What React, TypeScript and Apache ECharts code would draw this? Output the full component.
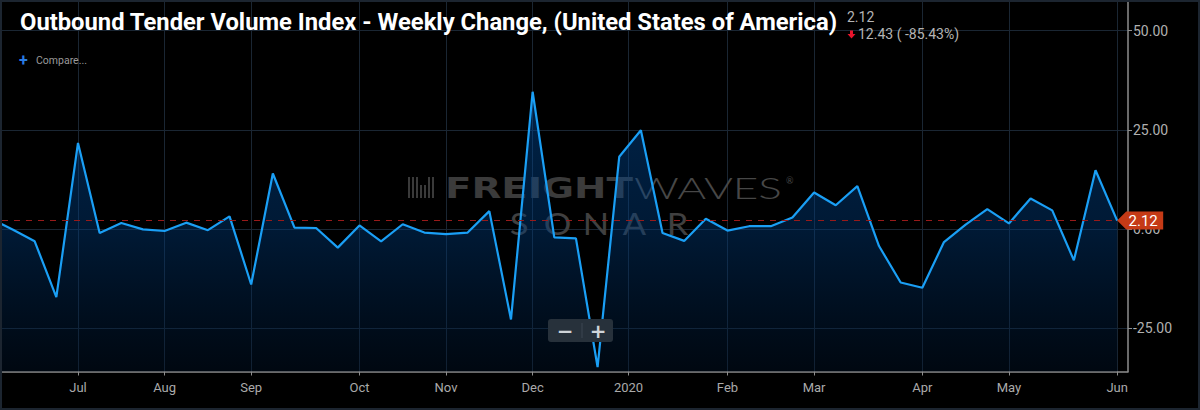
import React, { useEffect, useRef } from 'react';
import * as echarts from 'echarts';

// ---- Data (weekly) ----
const weekDates = [
  '2019-06-09', '2019-06-16', '2019-06-23', '2019-06-30', '2019-07-07', '2019-07-14', '2019-07-21', '2019-07-28',
  '2019-08-04', '2019-08-11', '2019-08-18', '2019-08-25', '2019-09-01', '2019-09-08', '2019-09-15', '2019-09-22',
  '2019-09-29', '2019-10-06', '2019-10-13', '2019-10-20', '2019-10-27', '2019-11-03', '2019-11-10', '2019-11-17',
  '2019-11-24', '2019-12-01', '2019-12-08', '2019-12-15', '2019-12-22', '2019-12-29', '2020-01-05', '2020-01-12',
  '2020-01-19', '2020-01-26', '2020-02-02', '2020-02-09', '2020-02-16', '2020-02-23', '2020-03-01', '2020-03-08',
  '2020-03-15', '2020-03-22', '2020-03-29', '2020-04-05', '2020-04-12', '2020-04-19', '2020-04-26', '2020-05-03',
  '2020-05-10', '2020-05-17', '2020-05-24', '2020-05-31', '2020-06-07',
];

const weeklyChange = [
  2.5, -0.2, -3.1, -17.2, 21.7, -1.0, 1.5, -0.1,
  -0.5, 1.6, -0.3, 3.2, -14.0, 14.0, 0.35, 0.25,
  -4.7, 0.9, -3.1, 1.2, -0.9, -1.3, -0.9, 4.5,
  -22.8, 34.6, -2.1, -2.35, -34.8, 18.2, 24.9, -1.0,
  -3.0, 2.6, -0.4, 0.7, 0.7, 2.9, 9.2, 6.0,
  10.8, -4.3, -13.5, -14.8, -3.3, 1.1, 5.0, 1.4,
  7.7, 4.7, -7.9, 14.8, 2.12,
];

const lastValue = 2.12;
const changeValue = 12.43;
const changePct = -85.43;

const yTickValues = [-25, 0, 25, 50];
const monthLabels = ['Jul', 'Aug', 'Sep', 'Oct', 'Nov', 'Dec', '2020', 'Feb', 'Mar', 'Apr', 'May', 'Jun'];

const titleText = 'Outbound Tender Volume Index - Weekly Change, (United States of America)';

// month tick positions on the weekly index scale
function buildMonthTicks() {
  const ts = weekDates.map((d) => Date.parse(d));
  const out: { pos: number; label: string }[] = [];
  monthLabels.forEach((label, k) => {
    const y = 2019 + Math.floor((6 + k) / 12);
    const m = (6 + k) % 12;
    const start = Date.UTC(y, m, 1);
    const i = ts.findIndex((t) => t >= start);
    if (m === 0 && i > 0) {
      out.push({ pos: i - 1 + (start - ts[i - 1]) / (ts[i] - ts[i - 1]), label });
    } else {
      out.push({ pos: i, label });
    }
  });
  return out;
}

function fitScale(text: string, font: string, target: number) {
  const c = document.createElement('canvas').getContext('2d');
  if (!c) return 1;
  c.font = font;
  const w = c.measureText(text).width;
  return w > 0 ? target / w : 1;
}

export default function App() {
  const ref = useRef<HTMLDivElement>(null);

  useEffect(() => {
    if (!ref.current) return;
    const chart = echarts.init(ref.current, undefined, { renderer: 'svg' });

    const monthTicks = buildMonthTicks();
    const tickPos = monthTicks.map((t) => t.pos);
    const labelFor = (v: number) => {
      let best = monthTicks[0];
      monthTicks.forEach((t) => {
        if (Math.abs(t.pos - v) < Math.abs(best.pos - v)) best = t;
      });
      return best.label;
    };

    const seriesData = weeklyChange.map((v, i) => [i, v]);
    const lastIdx = weeklyChange.length - 1;

    const titleFont = 'bold 24px Roboto';
    const titleScale = fitScale(titleText, titleFont, 818);
    const freightScale = fitScale('FREIGHT', '900 29px "DejaVu Sans"', 188);
    const wavesScale = fitScale('WAVES', '300 29px Lato', 148);

    const sonarLetters = ['S', 'O', 'N', 'A', 'R'];
    const sonarX = [519, 557.5, 596, 634.5, 677.5];
    const iconBars = [
      { x: 408, h: 21 }, { x: 412, h: 21 }, { x: 416, h: 21 }, { x: 420, h: 13 },
      { x: 424, h: 13 }, { x: 428, h: 21 }, { x: 432, h: 21 },
    ];

    const graphic: any[] = [
      // watermark
      ...iconBars.map((b) => ({
        type: 'rect', z: 1, silent: true,
        shape: { x: b.x, y: 198 - b.h, width: 2, height: b.h },
        style: { fill: '#3a3a3a' },
      })),
      {
        type: 'text', z: 1, silent: true, x: 445, y: 188, scaleX: freightScale,
        style: { text: 'FREIGHT', fill: '#3b3b3b', fontSize: 29, fontWeight: 900, fontFamily: 'DejaVu Sans', verticalAlign: 'middle', align: 'left' },
      },
      {
        type: 'text', z: 1, silent: true, x: 634, y: 188, scaleX: wavesScale,
        style: { text: 'WAVES', fill: '#474747', fontSize: 29, fontWeight: 300, fontFamily: 'Lato', verticalAlign: 'middle', align: 'left' },
      },
      {
        type: 'text', z: 1, silent: true, x: 786, y: 180,
        style: { text: '®', fill: '#474747', fontSize: 9, fontFamily: 'Lato', verticalAlign: 'middle', align: 'left' },
      },
      ...sonarLetters.map((ch, i) => ({
        type: 'text', z: 1, silent: true, x: sonarX[i], y: 223, scaleX: 1.15,
        style: { text: ch, fill: '#404040', fontSize: 30, fontWeight: 'normal', fontFamily: 'Lato', verticalAlign: 'middle', align: 'center' },
      })),
      // title block
      {
        type: 'text', z: 10, silent: true, x: 20, y: 22, scaleX: titleScale,
        style: { text: titleText, fill: '#ffffff', fontSize: 24, fontWeight: 'bold', fontFamily: 'Roboto', verticalAlign: 'middle', align: 'left' },
      },
      {
        type: 'text', z: 10, silent: true, x: 847, y: 17,
        style: { text: lastValue.toFixed(2), fill: '#b4b4b4', fontSize: 14, fontFamily: 'Roboto', verticalAlign: 'middle', align: 'left' },
      },
      {
        type: 'polygon', z: 10, silent: true,
        shape: { points: [[850, 30.5], [853, 30.5], [853, 34], [855.5, 34], [851.5, 38.5], [847.5, 34], [850, 34]] },
        style: { fill: '#e8142c' },
      },
      {
        type: 'text', z: 10, silent: true, x: 858, y: 34,
        style: { text: `${changeValue.toFixed(2)} ( ${changePct.toFixed(2)}%)`, fill: '#b4b4b4', fontSize: 14, fontFamily: 'Roboto', verticalAlign: 'middle', align: 'left' },
      },
      {
        type: 'text', z: 10, silent: true, x: 19, y: 60,
        style: { text: '+', fill: '#2a7be4', fontSize: 16, fontWeight: 'bold', fontFamily: 'Roboto', verticalAlign: 'middle', align: 'left' },
      },
      {
        type: 'text', z: 10, silent: true, x: 36, y: 60,
        style: { text: 'Compare...', fill: '#9a9a9a', fontSize: 10.5, fontFamily: 'Roboto', verticalAlign: 'middle', align: 'left' },
      },
      // zoom control
      {
        type: 'rect', z: 10, silent: true,
        shape: { x: 548, y: 319, width: 65, height: 23, r: 3 },
        style: { fill: '#27313b' },
      },
      {
        type: 'line', z: 11, silent: true,
        shape: { x1: 582, y1: 323, x2: 582, y2: 338 },
        style: { stroke: '#3c4752', lineWidth: 1 },
      },
      {
        type: 'text', z: 11, silent: true, x: 565, y: 330.5,
        style: { text: '−', fill: '#cfd4d9', fontSize: 20, fontWeight: 'bold', fontFamily: 'DejaVu Sans', verticalAlign: 'middle', align: 'center' },
      },
      {
        type: 'text', z: 11, silent: true, x: 598, y: 330.5,
        style: { text: '+', fill: '#cfd4d9', fontSize: 20, fontWeight: 'bold', fontFamily: 'DejaVu Sans', verticalAlign: 'middle', align: 'center' },
      },
      // frame
      {
        type: 'rect', z: 20, silent: true,
        shape: { x: 1, y: 1, width: 1198, height: 408 },
        style: { fill: 'none', stroke: '#1c2530', lineWidth: 2 },
      },
    ];

    const axisGray = '#8e8e8e';
    const gridColor = '#1a2633';

    chart.setOption({
      animation: false,
      backgroundColor: '#000000',
      grid: { left: 2, right: 72, top: 0, bottom: 38.5, containLabel: false, outerBoundsMode: 'none' },
      xAxis: {
        type: 'value',
        min: 0.49,
        max: 52.5,
        axisLine: { show: true, onZero: false, lineStyle: { color: axisGray, width: 1.5 } },
        axisTick: { show: true, customValues: tickPos, length: 4, lineStyle: { color: axisGray } },
        axisLabel: {
          customValues: tickPos,
          formatter: (v: number) => labelFor(v),
          color: '#aaaaaa', fontSize: 13, fontFamily: 'Roboto', margin: 9,
        },
        splitLine: { show: true, lineStyle: { color: gridColor, width: 1 } },
      },
      yAxis: {
        type: 'value',
        position: 'right',
        min: -35.93,
        max: 57.74,
        axisLine: { show: true, lineStyle: { color: axisGray, width: 1.5 } },
        axisTick: { show: true, customValues: yTickValues, length: 4, lineStyle: { color: axisGray } },
        axisLabel: {
          customValues: yTickValues,
          formatter: (v: number) => v.toFixed(2),
          color: '#b0b0b0', fontSize: 14, fontFamily: 'Roboto', margin: 5,
        },
        splitLine: { show: true, lineStyle: { color: gridColor, width: 1 } },
      },
      graphic,
      series: [
        {
          type: 'line',
          data: seriesData,
          symbol: 'none',
          clip: true,
          lineStyle: { color: '#1a9ff5', width: 2.2 },
          areaStyle: {
            origin: 'start',
            color: new echarts.graphic.LinearGradient(0, 0, 0, 1, [
              { offset: 0, color: 'rgba(0,80,165,0.62)' },
              { offset: 0.5, color: 'rgba(0,60,125,0.6)' },
              { offset: 1, color: 'rgba(0,22,48,0.5)' },
            ]),
          },
          markLine: {
            silent: true,
            symbol: ['none', 'none'],
            label: { show: false },
            lineStyle: { color: '#981a1a', type: [6, 6], width: 1.2 },
            emphasis: { disabled: true },
            data: [{ yAxis: lastValue }],
          },
          markPoint: {
            silent: true,
            symbol: 'path://M0,9L9,0L46,0L46,18L9,18Z',
            symbolSize: [46, 18],
            symbolOffset: [23, 0],
            itemStyle: { color: '#c53a16' },
            label: {
              show: true, position: 'inside', color: '#ffffff', fontSize: 15, fontFamily: 'Roboto',
              offset: [3, 0],
              formatter: () => lastValue.toFixed(2),
            },
            data: [{ coord: [lastIdx, lastValue], value: lastValue }],
          },
        },
      ],
    });

    return () => chart.dispose();
  }, []);

  return (
    <div
      ref={ref}
      style={{ position: 'fixed', left: 0, top: 0, width: 1200, height: 410, background: '#000' }}
    />
  );
}
